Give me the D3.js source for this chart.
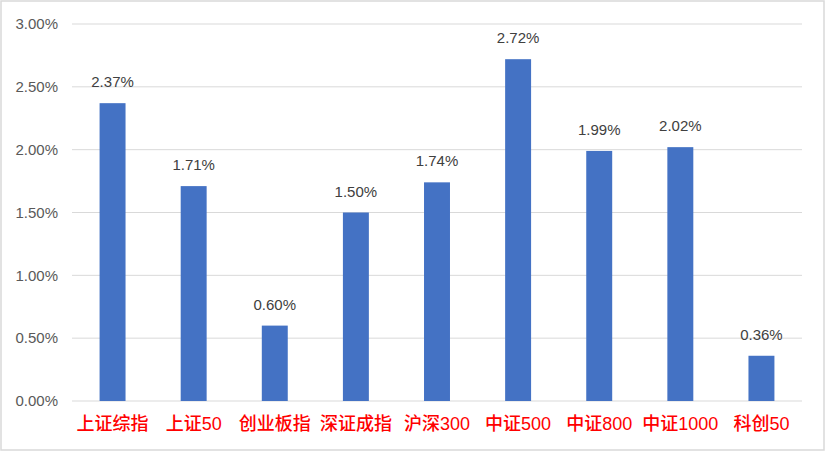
<!DOCTYPE html>
<html><head><meta charset="utf-8">
<script src="https://cdn.jsdelivr.net/npm/d3@7"></script>
<style>body{margin:0;background:#fff}svg{display:block}</style>
</head><body>
<script>
const categories = ["上证综指","上证50","创业板指","深证成指","沪深300","中证500","中证800","中证1000","科创50"];
const values = [2.37,1.71,0.60,1.50,1.74,2.72,1.99,2.02,0.36];
const yTicks = [0,0.5,1.0,1.5,2.0,2.5,3.0];

const W=826,H=453;
const svg=d3.select("body").append("svg").attr("width",W).attr("height",H);
svg.append("rect").attr("x",1).attr("y",1).attr("width",W-3).attr("height",H-4)
  .attr("fill","#fff").attr("stroke","#d9d9d9").attr("stroke-width",1.5);

const x=d3.scaleBand().domain(categories).range([72,802]).paddingInner(0.68).paddingOuter(0.34);
const y=d3.scaleLinear().domain([0,3]).range([401,24]);

const grid=svg.append("g");
grid.selectAll("line").data(yTicks).join("line")
  .attr("x1",72).attr("x2",802).attr("y1",d=>y(d)).attr("y2",d=>y(d))
  .attr("stroke","#d9d9d9").attr("stroke-width",1);

const yAxis=d3.axisLeft(y).tickValues(yTicks).tickFormat(d=>d.toFixed(2)+"%").tickSize(0).tickPadding(14);
const ya=svg.append("g").attr("transform","translate(72,0)").call(yAxis);
ya.select(".domain").remove();
ya.selectAll("text").attr("fill","#595959").style("font-family","Liberation Sans, Arial, sans-serif").style("font-size","15px");

svg.append("g").selectAll("rect").data(values).join("rect")
  .attr("x",(d,i)=>x(categories[i])).attr("width",x.bandwidth())
  .attr("y",d=>y(d)).attr("height",d=>y(0)-y(d)).attr("fill","#4472c4");

svg.append("g").selectAll("text").data(values).join("text")
  .attr("x",(d,i)=>x(categories[i])+x.bandwidth()/2).attr("y",d=>y(d)-16)
  .attr("text-anchor","middle").attr("fill","#404040")
  .style("font-family","Liberation Sans, Arial, sans-serif").style("font-size","15px")
  .text(d=>d.toFixed(2)+"%");

const xAxis=d3.axisBottom(x).tickSize(0).tickPadding(16);
const xa=svg.append("g").attr("transform","translate(0,401)").call(xAxis);
xa.select(".domain").remove();
xa.selectAll("text").attr("fill","#ff0000").style("font-family","'Liberation Sans', 'Noto Sans CJK SC', sans-serif")
  .style("font-size","18px").style("font-weight","500");
</script>
</body></html>
